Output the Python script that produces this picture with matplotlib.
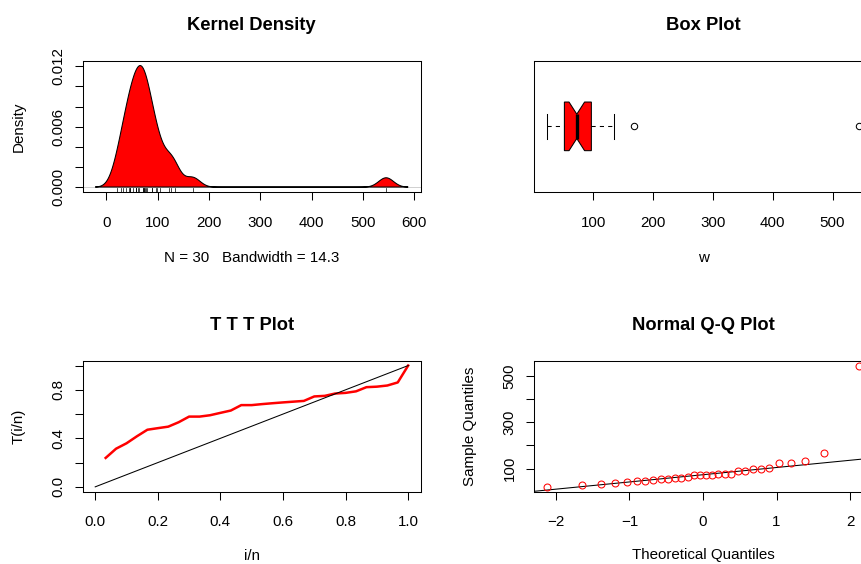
import numpy as np
import matplotlib
matplotlib.use("Agg")
import matplotlib.pyplot as plt
from matplotlib.transforms import blended_transform_factory
from statistics import NormalDist

# sample of 30 observations
w = [21.5, 28.6, 32.9, 38.7, 44.3, 45.7, 47.1, 51.4, 57.1, 57.1,
     58.6, 61.4, 64.3, 71.4, 71.4, 72.9, 74.3, 75.7, 77.1, 78.6,
     88.6, 90.0, 96.5, 98.6, 104.3, 122.9, 125.7, 134.3, 168.6, 545.0]

kde_xticks = [0, 100, 200, 300, 400, 500, 600]
kde_yticks = [0.000, 0.002, 0.004, 0.006, 0.008, 0.010, 0.012]
kde_ylabels = ["0.000", "", "", "0.006", "", "", "0.012"]
box_xticks = [100, 200, 300, 400, 500]
ttt_ticks = [0.0, 0.2, 0.4, 0.6, 0.8, 1.0]
ttt_xlabels = ["0.0", "0.2", "0.4", "0.6", "0.8", "1.0"]
ttt_ylabels = ["0.0", "", "0.4", "", "0.8", ""]
qq_xticks = [-2, -1, 0, 1, 2]
qq_xlabels = ["\u22122", "\u22121", "0", "1", "2"]
qq_yticks = [100, 200, 300, 400, 500]
qq_ylabels = ["100", "", "300", "", "500"]

x = np.sort(np.asarray(w, dtype=float))
n = len(x)

plt.rcParams["font.family"] = ["Liberation Sans", "DejaVu Sans"]
W, H = 862, 564
fig = plt.figure(figsize=(W / 100, H / 100), dpi=100)

FS = 10.9     # body text
TFS = 13.2    # panel titles
LW = 0.75


def px_axes(x0, y0, x1, y1):
    return fig.add_axes([x0 / W, 1 - y1 / H, (x1 - x0) / W, (y1 - y0) / H])


def style(ax):
    for s in ax.spines.values():
        s.set_linewidth(LW)
        s.set_color("black")
    ax.tick_params(direction="out", length=5.5, width=LW, labelsize=FS,
                   colors="black")
    ax.tick_params(axis="x", pad=11.6)
    ax.tick_params(axis="y", pad=7.0)


def rlim(lo, hi):
    d = (hi - lo) * 0.04
    return lo - d, hi + d


def ytick_labels(ax, ticks, labels):
    ax.set_yticks(ticks)
    ax.set_yticklabels(labels, rotation=90, va="center", ha="right")


def ftext(xp, yp, s, **kw):
    fig.text(xp / W, 1 - yp / H, s, ha="center", va="center", **kw)


L0, L1 = 82.7, 420.7
R0, R1 = 534.0, 872.0
T0, T1 = 60.7, 192.0
B0, B1 = 360.7, 491.7

# ---------- Kernel density ----------
q1, q3 = np.percentile(x, [25, 75])
bw = 0.9 * min(np.std(x, ddof=1), (q3 - q1) / 1.34) * n ** (-0.2)
grid = np.linspace(x.min() - 3 * bw, x.max() + 3 * bw, 512)
dens = np.exp(-0.5 * ((grid[:, None] - x[None, :]) / bw) ** 2).sum(axis=1)
dens /= n * bw * np.sqrt(2 * np.pi)

ax1 = px_axes(L0, T0, L1, T1)
style(ax1)
ax1.axhline(0, color="#bebebe", lw=0.5, zorder=1)
ax1.fill(grid, dens, facecolor="red", edgecolor="black", lw=LW, zorder=2)
tr = blended_transform_factory(ax1.transData, ax1.transAxes)
for v in x:
    ax1.plot([v, v], [0, 0.03], color="black", lw=0.5, transform=tr, zorder=3)
ax1.set_xlim(*rlim(grid.min(), grid.max()))
ax1.set_ylim(*rlim(0, dens.max()))
ax1.set_xticks(kde_xticks)
ytick_labels(ax1, kde_yticks, kde_ylabels)
ftext((L0 + L1) / 2, 26, "Kernel Density", fontsize=TFS, fontweight="bold")
ftext((L0 + L1) / 2, 258, f"N = {n}   Bandwidth = {bw:.3g}", fontsize=FS)
ftext(19, (T0 + T1) / 2, "Density", fontsize=FS, rotation=90)

# ---------- Box plot ----------
med = np.median(x)
lo_h, hi_h = x[7], x[22]
iqr = hi_h - lo_h
lo_f, hi_f = lo_h - 1.5 * iqr, hi_h + 1.5 * iqr
wlo = x[x >= lo_f].min()
whi = x[x <= hi_f].max()
outl = x[(x < lo_f) | (x > hi_f)]
c1 = med - 1.58 * iqr / np.sqrt(n)
c2 = med + 1.58 * iqr / np.sqrt(n)

ax2 = px_axes(R0, T0, R1, T1)
style(ax2)
wid, nf, yc = 0.2, 0.5, 1.0
px_ = [lo_h, lo_h, c1, med, c2, hi_h, hi_h, c2, med, c1]
py_ = [yc - wid, yc + wid, yc + wid, yc + nf * wid, yc + wid, yc + wid,
       yc - wid, yc - wid, yc - nf * wid, yc - wid]
ax2.fill(px_, py_, facecolor="red", edgecolor="black", lw=LW, zorder=2)
ax2.plot([med, med], [yc - nf * wid, yc + nf * wid], color="black", lw=2.4,
         solid_capstyle="butt", zorder=3)
ax2.plot([wlo, lo_h], [yc, yc], color="black", lw=LW, ls=(0, (4, 4)))
ax2.plot([hi_h, whi], [yc, yc], color="black", lw=LW, ls=(0, (4, 4)))
for v in (wlo, whi):
    ax2.plot([v, v], [yc - wid / 2, yc + wid / 2], color="black", lw=LW)
ax2.plot(outl, np.full(len(outl), yc), "o", mfc="none", mec="black",
         ms=4.6, mew=LW, clip_on=False)
ax2.set_xlim(*rlim(x.min(), x.max()))
ax2.set_ylim(*rlim(0.5, 1.5))
ax2.set_xticks(box_xticks)
ax2.set_yticks([])
ftext((R0 + R1) / 2, 26, "Box Plot", fontsize=TFS, fontweight="bold")
ftext((R0 + R1) / 2, 258, "w", fontsize=FS)

# ---------- TTT plot ----------
cs = np.cumsum(x)
i = np.arange(1, n + 1)
ttt = (cs + (n - i) * x) / cs[-1]

ax3 = px_axes(L0, B0, L1, B1)
style(ax3)
ax3.plot(i / n, ttt, color="red", lw=1.8, solid_joinstyle="round")
ax3.plot([0, 1], [0, 1], color="black", lw=LW)
ax3.set_xlim(*rlim(0, 1))
ax3.set_ylim(*rlim(0, 1))
ax3.set_xticks(ttt_ticks)
ax3.set_xticklabels(ttt_xlabels)
ytick_labels(ax3, ttt_ticks, ttt_ylabels)
ftext((L0 + L1) / 2, 326, "T T T Plot", fontsize=TFS, fontweight="bold")
ftext((L0 + L1) / 2, 555.5, "i/n", fontsize=FS)
ftext(19, (B0 + B1) / 2, "T(i/n)", fontsize=FS, rotation=90)

# ---------- Normal Q-Q ----------
nd = NormalDist()
theo = np.array([nd.inv_cdf((k - 0.5) / n) for k in i])
yq1, yq3 = np.percentile(x, [25, 75])
xq1, xq3 = nd.inv_cdf(0.25), nd.inv_cdf(0.75)
slope = (yq3 - yq1) / (xq3 - xq1)
icpt = yq1 - slope * xq1

ax4 = px_axes(R0, B0, R1, B1)
style(ax4)
ax4.plot(theo, x, "o", mfc="none", mec="red", ms=5.0, mew=LW, zorder=3)
ax4.set_xlim(*rlim(theo.min(), theo.max()))
ax4.set_ylim(*rlim(x.min(), x.max()))
xl = np.array(ax4.get_xlim())
ax4.plot(xl, icpt + slope * xl, color="black", lw=LW, zorder=2)
ax4.set_xlim(*rlim(theo.min(), theo.max()))
ax4.set_xticks(qq_xticks)
ax4.set_xticklabels(qq_xlabels)
ytick_labels(ax4, qq_yticks, qq_ylabels)
ftext((R0 + R1) / 2, 326, "Normal Q-Q Plot", fontsize=TFS, fontweight="bold")
ftext((R0 + R1) / 2, 555.5, "Theoretical Quantiles", fontsize=FS)
ftext(470, (B0 + B1) / 2, "Sample Quantiles", fontsize=FS, rotation=90)

fig.savefig("out.png", dpi=100)
